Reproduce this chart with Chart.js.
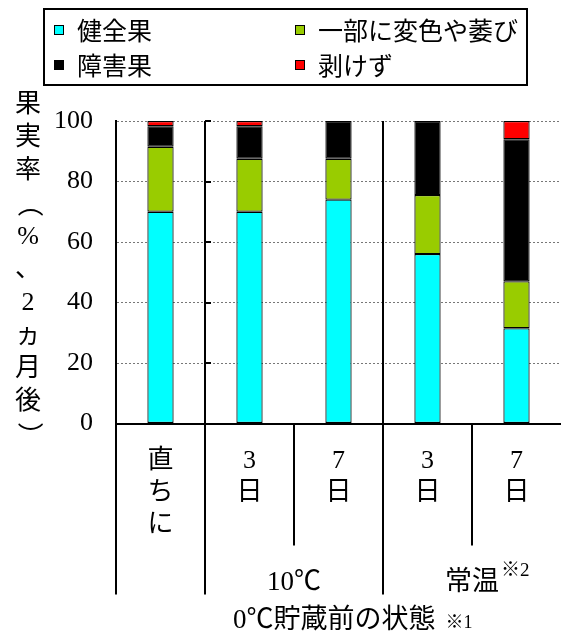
<!DOCTYPE html>
<html>
<head>
<meta charset="utf-8">
<script src="https://cdn.jsdelivr.net/npm/chart.js@4"></script>
<style>
  html, body { margin: 0; padding: 0; background: #fff; }
  #wrap { width: 561px; height: 632px; position: relative; }
</style>
</head>
<body>
<div id="wrap"><canvas id="c" width="561" height="632"></canvas></div>
<script>
// ---- data ----
const categories = ['直ちに', '3日', '7日', '3日', '7日'];
const groupLabels = ['', '10℃', '10℃', '常温', '常温'];
const groupNotes = ['', '', '', '※2', '※2'];
const seriesNames = ['健全果', '一部に変色や萎び', '障害果', '剥けず'];
const seriesColors = ['#00FFFF', '#99CC00', '#000000', '#FF0000'];
const healthy = [70, 70, 74, 56, 31.5];
const partial = [21.5, 17.5, 13.5, 19.5, 15.5];
const damaged = [6.8, 10.8, 12.5, 24.5, 47];
const unpeeled = [1.7, 1.7, 0, 0, 6];
const yTicks = [0, 20, 40, 60, 80, 100];
const yTitle = '果実率（%、2ヵ月後）';
const xTitle = '0℃貯蔵前の状態';
const xTitleNote = '※1';

const seriesValues = [healthy, partial, damaged, unpeeled];

const SERIF = '"Liberation Serif", "Noto Sans CJK JP", serif';
const SANS = '"Noto Sans CJK JP", "Noto Sans", sans-serif';

const extras = {
  id: 'extras',
  afterDraw(chart) {
    const { ctx, chartArea: a, scales: { x, y } } = chart;
    const n = categories.length;
    ctx.save();

    // category edges
    const edges = [];
    for (let i = 0; i <= n; i++) {
      if (i === 0) edges.push(a.left);
      else if (i === n) edges.push(a.right);
      else edges.push((x.getPixelForValue(i - 1) + x.getPixelForValue(i)) / 2);
    }
    ctx.strokeStyle = '#000';
    ctx.lineWidth = 2;
    for (let i = 0; i < n; i++) {
      const ex = Math.round(edges[i]);
      const groupStart = i === 0 || groupLabels[i] !== groupLabels[i - 1];
      ctx.beginPath();
      if (groupStart) { ctx.moveTo(ex, a.top); ctx.lineTo(ex, a.bottom + 171); }
      else { ctx.moveTo(ex, a.bottom); ctx.lineTo(ex, a.bottom + 122); }
      ctx.stroke();
    }
    // small ticks on first group separator
    const e1 = Math.round(edges[1]);
    yTicks.forEach(v => {
      const py = Math.round(y.getPixelForValue(v));
      ctx.beginPath(); ctx.moveTo(e1, py); ctx.lineTo(e1 + 6, py); ctx.stroke();
    });

    // category labels (vertical)
    ctx.fillStyle = '#000';
    ctx.textAlign = 'center';
    ctx.textBaseline = 'middle';
    ctx.font = '26px ' + SERIF;
    categories.forEach((lab, i) => {
      const cx = x.getPixelForValue(i);
      Array.from(lab).forEach((ch, k) => {
        ctx.fillText(ch, cx, a.bottom + 38 + k * 32);
      });
    });

    // group labels
    const seen = new Set();
    groupLabels.forEach((g, i) => {
      if (!g || seen.has(g)) return;
      seen.add(g);
      let last = i;
      while (last + 1 < n && groupLabels[last + 1] === g) last++;
      const cx = (x.getPixelForValue(i) + x.getPixelForValue(last)) / 2;
      ctx.font = '27px ' + SERIF;
      ctx.textAlign = 'center';
      const w = ctx.measureText(g).width;
      ctx.fillText(g, cx, a.bottom + 159);
      if (groupNotes[i]) {
        ctx.font = '19px ' + SERIF;
        ctx.textAlign = 'left';
        ctx.fillText(groupNotes[i], cx + w / 2 + 2, a.bottom + 148);
      }
    });

    // x title
    ctx.font = '27px ' + SERIF;
    ctx.textAlign = 'left';
    const tx = 233;
    const tw = ctx.measureText(xTitle).width;
    ctx.fillText(xTitle, tx, a.bottom + 197);
    ctx.font = '18px ' + SERIF;
    ctx.fillText(xTitleNote, tx + tw + 10, a.bottom + 200);

    // y title (vertical)
    ctx.font = '26px ' + SERIF;
    ctx.textAlign = 'center';
    Array.from(yTitle).forEach((ch, k) => {
      const cy = 105 + k * 33;
      if (ch === '（' || ch === '）') {
        ctx.save();
        ctx.translate(28, cy);
        ctx.rotate(Math.PI / 2);
        ctx.fillText(ch, 0, 0);
        ctx.restore();
      } else {
        ctx.fillText(ch, 28, cy);
      }
    });

    // legend
    ctx.lineWidth = 2;
    ctx.strokeStyle = '#000';
    ctx.strokeRect(44, 9, 483, 76);
    const cols = [54, 295];
    const rows = [30, 65];
    ctx.font = '25px ' + SANS;
    ctx.textAlign = 'left';
    chart.data.datasets.forEach((ds, i) => {
      const lx = cols[i % 2];
      const ly = rows[Math.floor(i / 2)];
      ctx.fillStyle = ds.backgroundColor;
      ctx.fillRect(lx, ly - 4.5, 9, 9);
      ctx.lineWidth = 1;
      ctx.strokeRect(lx + 0.5, ly - 4.5, 9, 9);
      ctx.fillStyle = '#000';
      ctx.fillText(ds.label, lx + 23, ly);
    });

    ctx.restore();
  }
};

new Chart(document.getElementById('c'), {
  type: 'bar',
  data: {
    labels: categories,
    datasets: seriesNames.map((name, i) => ({
      label: name,
      data: seriesValues[i],
      backgroundColor: seriesColors[i],
      borderColor: '#000',
      borderWidth: 1.2,
      borderSkipped: false,
      barPercentage: 0.295,
      categoryPercentage: 1
    }))
  },
  options: {
    responsive: false,
    devicePixelRatio: 1,
    animation: false,
    layout: { padding: { top: 121, left: 0, right: 0, bottom: 0 } },
    plugins: { legend: { display: false }, tooltip: { enabled: false } },
    scales: {
      x: {
        stacked: true,
        grid: { display: false },
        ticks: { display: false },
        border: { display: true, color: '#000', width: 2 },
        afterFit: s => { s.height = 208.5; }
      },
      y: {
        stacked: true,
        min: 0, max: 100,
        afterBuildTicks: s => { s.ticks = yTicks.map(v => ({ value: v })); },
        ticks: { color: '#000', font: { family: 'Liberation Serif', size: 26 }, padding: 23 },
        grid: { color: '#777', lineWidth: 1, drawTicks: false },
        border: { display: true, color: '#000', width: 2, dash: [2, 2] },
        afterFit: s => { s.width = 116; }
      }
    }
  },
  plugins: [extras]
});
</script>
</body>
</html>
